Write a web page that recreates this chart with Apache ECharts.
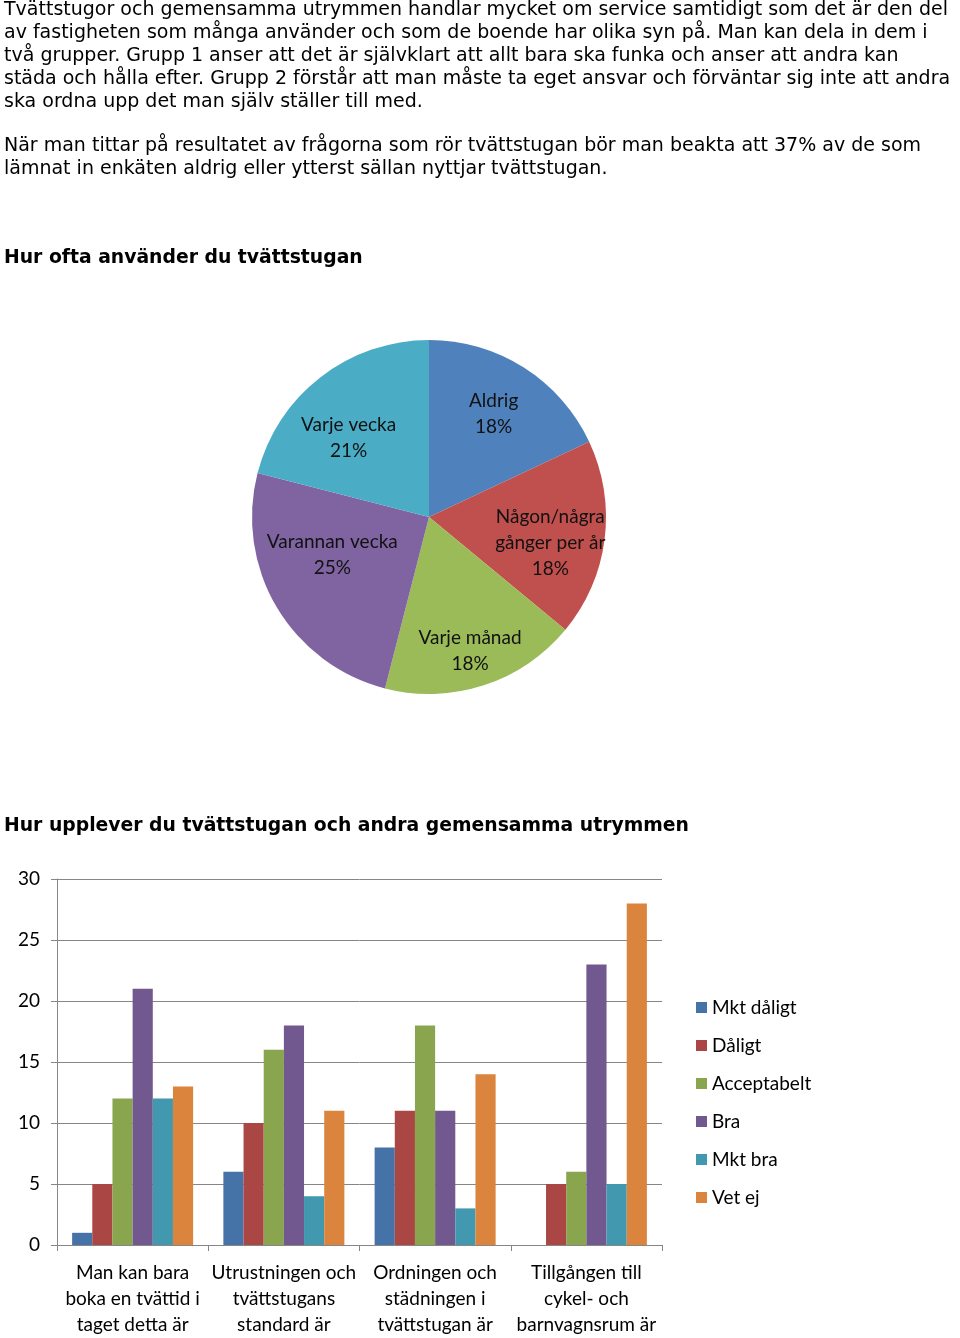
<!DOCTYPE html>
<html><head><meta charset="utf-8">
<script src="https://cdn.jsdelivr.net/npm/echarts@6/dist/echarts.min.js"></script>
<style>html,body{margin:0;padding:0;background:#fff}#c{width:960px;height:1338px}</style>
</head><body><div id="c"></div>
<script>
const introLines1 = [
  'Tvättstugor och gemensamma utrymmen handlar mycket om service samtidigt som det är den del',
  'av fastigheten som många använder och som de boende har olika syn på. Man kan dela in dem i',
  'två grupper. Grupp 1 anser att det är självklart att allt bara ska funka och anser att andra kan',
  'städa och hålla efter. Grupp 2 förstår att man måste ta eget ansvar och förväntar sig inte att andra',
  'ska ordna upp det man själv ställer till med.'
];
const introLines2 = [
  'När man tittar på resultatet av frågorna som rör tvättstugan bör man beakta att 37% av de som',
  'lämnat in enkäten aldrig eller ytterst sällan nyttjar tvättstugan.'
];
const pieTitle = 'Hur ofta använder du tvättstugan';
const barTitle = 'Hur upplever du tvättstugan och andra gemensamma utrymmen';

const pieNames = ['Aldrig', 'Någon/några\ngånger per år', 'Varje månad', 'Varannan vecka', 'Varje vecka'];
const pieValues = [18, 18, 18, 25, 21];
const pieColors = ['#4F81BD', '#C0504D', '#9BBB59', '#8064A2', '#4BACC6'];

const barCategories = [
  'Man kan bara\nboka en tvättid i\ntaget detta är',
  'Utrustningen och\ntvättstugans\nstandard är',
  'Ordningen och\nstädningen i\ntvättstugan är',
  'Tillgången till\ncykel- och\nbarnvagnsrum är'
];
const seriesNames = ['Mkt dåligt', 'Dåligt', 'Acceptabelt', 'Bra', 'Mkt bra', 'Vet ej'];
const mktDaligt   = [1, 6, 8, 0];
const daligt      = [5, 10, 11, 5];
const acceptabelt = [12, 16, 18, 6];
const bra         = [21, 18, 11, 23];
const mktBra      = [12, 4, 3, 5];
const vetEj       = [13, 11, 14, 28];
const barColors = ['#4572A7', '#AA4643', '#89A54E', '#71588F', '#4198AF', '#DB843D'];
const yTicks = {min: 0, max: 30, interval: 5};

const seriesData = [mktDaligt, daligt, acceptabelt, bra, mktBra, vetEj];
const cal = 'Lato, "Open Sans", sans-serif';
const ver = '"DejaVu Sans", Verdana, sans-serif';
const pieCenter = [429, 517];
const pieR = 177;
// small per-slice label nudges (style only)
const labelNudge = [[-3, 3], [-4, 10], [2, 14], [12, -26], [-3, 21]];

const chart = echarts.init(document.getElementById('c'), null, {renderer: 'canvas'});
chart.setOption({
  animation: false,
  graphic: [
    {type: 'text', x: 4, y: -1.5, style: {text: introLines1.join('\n'), fontFamily: ver, fontSize: 19, lineHeight: 23, fill: '#000', verticalAlign: 'top'}},
    {type: 'text', x: 4, y: 134.5, style: {text: introLines2.join('\n'), fontFamily: ver, fontSize: 19, lineHeight: 23, fill: '#000', verticalAlign: 'top'}},
    {type: 'text', x: 4, y: 247, style: {text: pieTitle, fontFamily: ver, fontWeight: 'bold', fontSize: 18.8, lineHeight: 23, fill: '#000', verticalAlign: 'top'}},
    {type: 'text', x: 4, y: 815, style: {text: barTitle, fontFamily: ver, fontWeight: 'bold', fontSize: 18.8, lineHeight: 23, fill: '#000', verticalAlign: 'top'}}
  ],
  grid: {left: 57, top: 879, width: 605, height: 367, containLabel: false},
  legend: {
    orient: 'vertical', left: 691, top: 993, itemWidth: 11, itemHeight: 11, itemGap: 19, icon: 'rect',
    data: seriesNames,
    textStyle: {fontFamily: cal, fontSize: 19, color: '#000'}
  },
  xAxis: {
    type: 'category', data: barCategories,
    axisLine: {lineStyle: {color: '#868686'}},
    axisTick: {show: true, length: 6, lineStyle: {color: '#868686'}},
    axisLabel: {interval: 0, fontFamily: cal, fontSize: 19, lineHeight: 26, color: '#000', margin: 15}
  },
  yAxis: {
    type: 'value', min: yTicks.min, max: yTicks.max, interval: yTicks.interval,
    axisLine: {show: true, lineStyle: {color: '#868686'}},
    axisTick: {show: true, length: 6, lineStyle: {color: '#868686'}},
    splitLine: {lineStyle: {color: '#868686'}},
    axisLabel: {fontFamily: cal, fontSize: 19, color: '#000', margin: 17}
  },
  series: [
    {
      type: 'pie', center: pieCenter, radius: pieR, startAngle: 90, clockwise: true,
      data: pieNames.map((n, i) => ({name: n, value: pieValues[i], itemStyle: {color: pieColors[i]}})),
      label: {position: 'inside', formatter: '{b}\n{d}%', fontFamily: cal, fontSize: 19, lineHeight: 26, color: '#111'},
      labelLayout: function (p) {
        const r = p.labelRect;
        const cx = r.x + r.width / 2, cy = r.y + r.height / 2;
        const k = 0.38;
        const n = labelNudge[p.dataIndex] || [0, 0];
        return {dx: (cx - pieCenter[0]) * k + n[0], dy: (cy - pieCenter[1]) * k + n[1]};
      },
      emphasis: {disabled: true}
    }
  ].concat(seriesNames.map((n, i) => ({
    type: 'bar', name: n, data: seriesData[i], barGap: '0%', barCategoryGap: '20%',
    itemStyle: {color: barColors[i]}
  })))
});
</script></body></html>
